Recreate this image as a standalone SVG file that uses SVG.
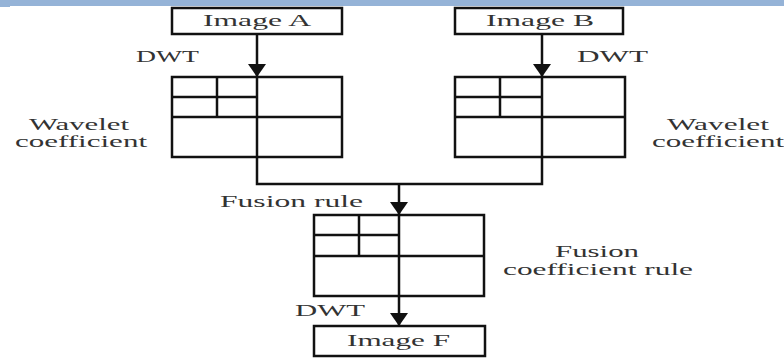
<svg xmlns="http://www.w3.org/2000/svg" width="784" height="358" viewBox="0 0 784 358">
<defs>
<style>
.box{fill:#fff;stroke:#111;stroke-width:2.5}
.ln{stroke:#111;stroke-width:2.5;fill:none}
.t{font-family:"Liberation Serif","Times New Roman",serif;font-size:16px;fill:#333}
</style>
<marker id="arr" viewBox="0 -10 14 20" refX="13" refY="0" markerWidth="14" markerHeight="20" markerUnits="userSpaceOnUse" orient="auto">
<path d="M0,-9 L13,0 L0,9 z" fill="#111"/>
</marker>
</defs>
<rect x="0" y="0" width="784" height="6" fill="#95B3D7"/>
<rect x="0" y="6" width="10" height="1" fill="#95B3D7"/>

<g id="imageA">
<rect class="box" x="172" y="8" width="170" height="26"/>
<text class="t" x="203" y="26" textLength="108" lengthAdjust="spacingAndGlyphs">Image A</text>
</g>
<g id="imageB">
<rect class="box" x="455" y="8" width="168" height="26"/>
<text class="t" x="486" y="26" textLength="108" lengthAdjust="spacingAndGlyphs">Image B</text>
</g>

<g id="gridA">
<rect class="box" x="172" y="77" width="170" height="80"/>
<line class="ln" x1="257" y1="77" x2="257" y2="157"/>
<line class="ln" x1="172" y1="117" x2="342" y2="117"/>
<line class="ln" x1="172" y1="97" x2="257" y2="97"/>
<line class="ln" x1="217" y1="77" x2="217" y2="117"/>
</g>
<g id="gridB">
<rect class="box" x="455" y="77" width="170" height="80"/>
<line class="ln" x1="542" y1="77" x2="542" y2="157"/>
<line class="ln" x1="455" y1="117" x2="625" y2="117"/>
<line class="ln" x1="455" y1="97" x2="542" y2="97"/>
<line class="ln" x1="500" y1="77" x2="500" y2="117"/>
</g>
<g id="gridF">
<rect class="box" x="314" y="215" width="170" height="81"/>
<line class="ln" x1="399" y1="215" x2="399" y2="296"/>
<line class="ln" x1="314" y1="256" x2="484" y2="256"/>
<line class="ln" x1="314" y1="235" x2="399" y2="235"/>
<line class="ln" x1="359" y1="215" x2="359" y2="256"/>
</g>
<g id="imageF">
<rect class="box" x="314" y="326" width="171" height="30"/>
<text class="t" x="347" y="346" textLength="103" lengthAdjust="spacingAndGlyphs">Image F</text>
</g>

<g id="connectors">
<line class="ln" x1="257" y1="34" x2="257" y2="77" marker-end="url(#arr)"/>
<line class="ln" x1="542" y1="34" x2="542" y2="77" marker-end="url(#arr)"/>
<polyline class="ln" points="257,157 257,184 542,184 542,157"/>
<line class="ln" x1="399" y1="184" x2="399" y2="215" marker-end="url(#arr)"/>
<line class="ln" x1="399" y1="296" x2="399" y2="326" marker-end="url(#arr)"/>
</g>

<g id="labels">
<text class="t" x="136" y="62" textLength="63" lengthAdjust="spacingAndGlyphs">DWT</text>
<text class="t" x="577" y="62" textLength="71" lengthAdjust="spacingAndGlyphs">DWT</text>
<text class="t" x="29" y="130" textLength="100" lengthAdjust="spacingAndGlyphs">Wavelet</text>
<text class="t" x="15" y="147" textLength="132" lengthAdjust="spacingAndGlyphs">coefficient</text>
<text class="t" x="667" y="130" textLength="102" lengthAdjust="spacingAndGlyphs">Wavelet</text>
<text class="t" x="652" y="147" textLength="132" lengthAdjust="spacingAndGlyphs">coefficient</text>
<text class="t" x="220" y="207" textLength="143" lengthAdjust="spacingAndGlyphs">Fusion rule</text>
<text class="t" x="555" y="257" textLength="84" lengthAdjust="spacingAndGlyphs">Fusion</text>
<text class="t" x="503" y="275" textLength="190" lengthAdjust="spacingAndGlyphs">coefficient rule</text>
<text class="t" x="295" y="316" textLength="70" lengthAdjust="spacingAndGlyphs">DWT</text>
</g>
</svg>
